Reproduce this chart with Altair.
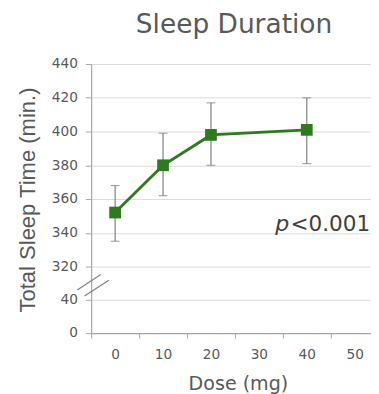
import altair as alt
import pandas as pd

# ---- data ----
doses = [0, 10, 20, 40]
means = [352, 380, 398, 401]
lows = [335, 362, 380, 381]
highs = [368, 399, 417, 420]

y_ticks = [0, 40, 320, 340, 360, 380, 400, 420, 440]
x_ticks = [0, 10, 20, 30, 40, 50]

# axis-break marks (in data units)
break_x = [-7.9, -6.4]
break_x2 = [-3.0, -1.3]
break_y = [122, 73]
break_y2 = [254, 205]

note_x = [33.4, 36.6]
note_y = [341, 341]
note_txt = ["p", "<0.001"]

GREEN = "#2e7b1f"
TXT = "#595959"
AX = "#a6a6a6"

df = pd.DataFrame({"dose": doses, "mean": means, "lo": lows, "hi": highs})
brk = pd.DataFrame({"x": break_x, "x2": break_x2, "y": break_y, "y2": break_y2})
note = pd.DataFrame({"x": note_x, "y": note_y, "t": note_txt})

xscale = alt.Scale(domain=[-5, 53.4], nice=False, zero=False)
yscale = alt.Scale(domain=[0, 40, 320, 440], range=[275, 241, 207, 0],
                   nice=False, zero=False)

x_axis = alt.Axis(values=x_ticks, title="Dose (mg)", grid=False,
                  tickOffset=-24.5, labelOffset=24.5, tickSize=5,
                  labelPadding=10, titleFont="DejaVu Sans", titleFontSize=19.5,
                  titleFontWeight="normal", titleColor=TXT, titleX=150,
                  titleY=58, titleAlign="center", titleBaseline="alphabetic")
y_axis = alt.Axis(values=y_ticks, title="Total Sleep Time (min.)", grid=True,
                  tickSize=6, labelPadding=8, titleFont="Liberation Sans",
                  titleFontSize=22.5, titleFontWeight="normal", titleColor=TXT,
                  titleAngle=-90, titleX=-58, titleY=138.5, titleAlign="center",
                  titleBaseline="alphabetic")

base = alt.Chart(df)

err = base.mark_errorbar(color="#7f7f7f", thickness=1.2,
                         ticks={"size": 9, "thickness": 1.2}).encode(
    x=alt.X("dose:Q", scale=xscale, axis=x_axis),
    y=alt.Y("lo:Q", scale=yscale, axis=y_axis),
    y2="hi:Q",
)

line = base.mark_line(color=GREEN, strokeWidth=3).encode(
    x=alt.X("dose:Q", scale=xscale, axis=x_axis),
    y=alt.Y("mean:Q", scale=yscale, axis=y_axis),
)

pts = base.mark_square(color=GREEN, size=144, opacity=1).encode(
    x=alt.X("dose:Q", scale=xscale, axis=x_axis),
    y=alt.Y("mean:Q", scale=yscale, axis=y_axis),
)

breaks = alt.Chart(brk).mark_rule(color="#7f7f7f", strokeWidth=1.2).encode(
    x=alt.X("x:Q", scale=xscale, axis=x_axis),
    x2="x2:Q",
    y=alt.Y("y:Q", scale=yscale, axis=y_axis),
    y2="y2:Q",
)

p_txt = alt.Chart(note).transform_filter(alt.datum.t == "p").mark_text(
    align="left", baseline="alphabetic", font="DejaVu Sans", fontSize=22.5,
    fontStyle="italic", color="#404040").encode(
    x=alt.X("x:Q", scale=xscale, axis=x_axis),
    y=alt.Y("y:Q", scale=yscale, axis=y_axis),
    text="t:N",
)
v_txt = alt.Chart(note).transform_filter(alt.datum.t != "p").mark_text(
    align="left", baseline="alphabetic", font="DejaVu Sans", fontSize=22,
    color="#404040").encode(
    x=alt.X("x:Q", scale=xscale, axis=x_axis),
    y=alt.Y("y:Q", scale=yscale, axis=y_axis),
    text="t:N",
)

chart = alt.layer(breaks, err, line, pts, p_txt, v_txt).properties(
    width=286, height=275,
    autosize=alt.AutoSizeParams(type="none"),
    padding={"left": 85, "top": 53, "right": 0, "bottom": 58},
    title=alt.TitleParams("Sleep Duration", font="DejaVu Sans", fontSize=27,
                          fontWeight="normal", color=TXT, anchor="middle",
                          baseline="alphabetic", offset=28, dx=3, dy=30,
                          frame="group"),
).configure_view(stroke=None).configure_axis(
    domainColor=AX, tickColor=AX, gridColor="#dadada", labelFont="DejaVu Sans",
    labelFontSize=14, labelColor=TXT, domainWidth=1.2,
)

chart.save("out.html", embed_options={"renderer": "svg", "actions": False})
